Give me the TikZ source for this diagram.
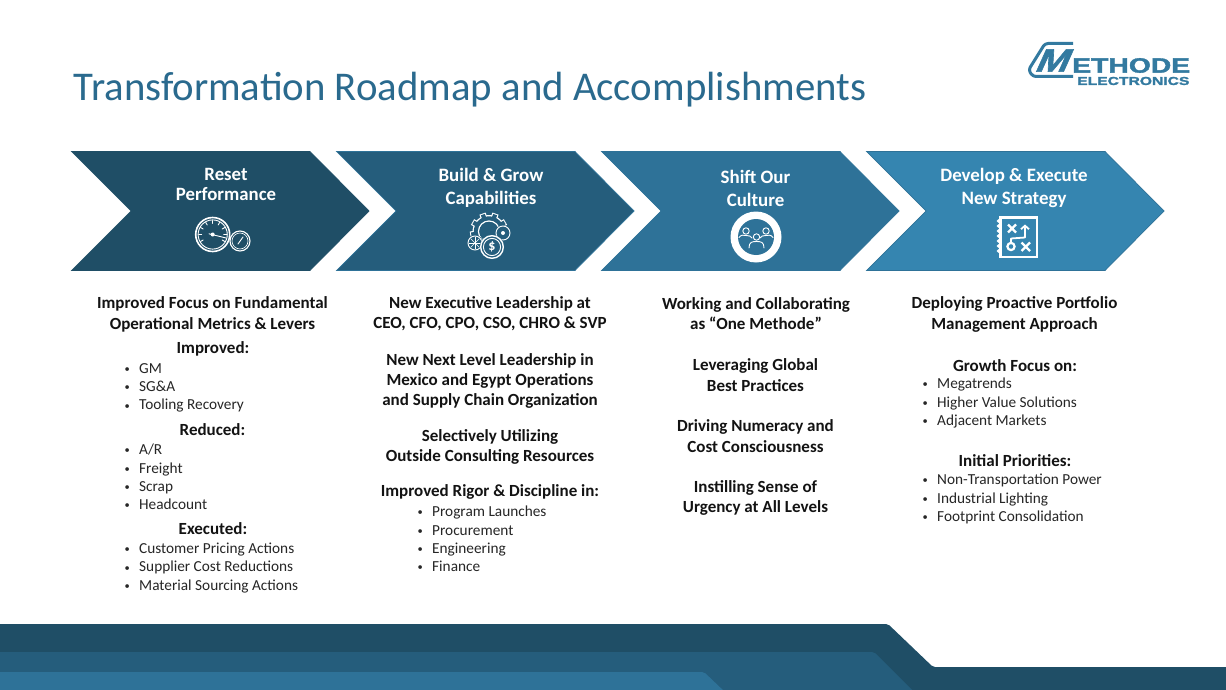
\documentclass[tikz,border=0pt]{standalone}
\usepackage{fontspec}
\setmainfont{Carlito}
\newfontfamily\logofont[BoldFeatures={FakeBold=1.6}]{Liberation Sans}
\usetikzlibrary{arrows.meta}
\definecolor{cA}{HTML}{1F4E66}
\definecolor{cB}{HTML}{255D7C}
\definecolor{cC}{HTML}{2E7298}
\definecolor{cD}{HTML}{3585B0}
\definecolor{cTitle}{HTML}{2A6A8E}
\definecolor{cLogo}{HTML}{337AA0}
\definecolor{cBody}{HTML}{262626}
\newcommand{\bul}{\makebox[14.5pt][l]{\raisebox{.9pt}{\fontsize{10.5}{10.5}\selectfont •}}}
\newcommand{\chevronshape}[3]{% left x, colour, edge colour
  \fill[#2,draw=#3,line width=.7pt] (#1+.5,151.5) -- (#1+239,151.5) -- (#1+298,211) -- (#1+239,270.5) -- (#1+.5,270.5) -- (#1+60,211) -- cycle;}
\tikzset{
  head/.style={text=white,font=\fontsize{18.9}{23}\selectfont\bfseries,align=center,anchor=center,inner sep=0pt},
  lead/.style={text=cBody!50!black,font=\fontsize{17}{20.6}\selectfont\bfseries,align=center,anchor=center,inner sep=0pt},
  bullets/.style={text=cBody,font=\fontsize{15.3}{18.3}\selectfont,align=left,anchor=west,inner sep=0pt},
  icon/.style={draw=white,line width=1.4pt,line cap=round,line join=round},
  iconthin/.style={draw=white,line width=.9pt,line cap=round,line join=round},
}
\begin{document}
\begin{tikzpicture}[x=1pt,y=-1pt]
\useasboundingbox (0,0) rectangle (1226,690);
\fill[white] (0,0) rectangle (1226,690);
% title
\node[anchor=west,inner sep=0pt,text=cTitle,font=\fontsize{40.8}{46}\selectfont] (title) at (73.5,90) {Transformation Roadmap and Accomplishments};
% logo
\draw[cLogo,line width=3pt,line join=round,rounded corners=3pt] (1073,43.5) -- (1045,43.5) -- (1028.5,70) -- (1033,76.5) -- (1073,76.5);
\node[anchor=center,inner sep=0pt,text=cLogo,font=\logofont\fontsize{32}{32}\selectfont\bfseries,xslant=.45,xscale=1.22,transform shape] (logoM) at (1055,60.5) {M};
\node[anchor=west,inner sep=0pt,text=cLogo,font=\logofont\fontsize{20.8}{21}\selectfont\bfseries,xscale=1.36,transform shape] (logoA) at (1072,65.5) {ETHODE};
\node[anchor=west,inner sep=0pt,text=cLogo,font=\logofont\fontsize{11.5}{12}\selectfont\bfseries,xscale=1.36,transform shape] (logoB) at (1077,81) {ELECTRONICS};
% chevrons
\chevronshape{71}{cA}{cA}
\chevronshape{336}{cB}{cC}
\chevronshape{601}{cC}{cC}
\chevronshape{866}{cD}{cC}
\node[head,font=\fontsize{18.8}{20}\selectfont\bfseries] (h1) at (226,184) {Reset\\Performance};
\node[head] (h2) at (491,188) {Build \& Grow\\Capabilities};
\node[head] (h3) at (755.5,188) {Shift Our\\Culture};
\node[head] (h4) at (1014,188) {Develop \& Execute\\New Strategy};
% icon 1: gauges
\draw[icon,line width=1.6pt] (212.7,234.5) circle (17);
\draw[iconthin] (212.7,234.5) circle (14.6);
\foreach \a in {-210,-180,-150,-120,-90,-60,-30,0,30}
  \draw[iconthin] (212.7,234.5) ++(\a:11) -- ++(\a:3);
\fill[white] (212.7,234.5) circle (2);
\draw[iconthin] (209,233.8) -- (226,238);
\draw[icon,line width=1.1pt] (240,241) circle (10);
\draw[white,line width=.6pt] (240,241) circle (8);
\draw[iconthin] (238,244) -- (243,237);
% icon 2: gear, coin and wheels
\begin{scope}
\clip (466,208) rectangle (512,240);
\foreach \a in {0,40,...,320}
  \draw[white,line width=6.5pt] (489,231.5) ++(\a+10:13) -- ++(\a+10:6);
\fill[white] (489,231.5) circle (16.5);
\foreach \a in {0,40,...,320}
  \draw[cB,line width=4.2pt] (489,231.5) ++(\a+10:12) -- ++(\a+10:6);
\fill[cB] (489,231.5) circle (15.2);
\draw[white,line width=1.2pt] (489,231.5) circle (10.5);
\fill[cB] (489,231.5) circle (9.5);
\end{scope}
\fill[cB] (503,233) circle (8);
\draw[iconthin] (503,233) circle (7);
\fill[white] (503,233) circle (2);
\fill[cB] (475,243) circle (8);
\draw[iconthin] (475,243) circle (7);
\foreach \a in {0,45,...,315} \draw[white,line width=.6pt] (475,243) -- ++(\a:6);
\fill[cB] (492,247) circle (12.3);
\draw[icon,line width=1.4pt] (492,247) circle (11.3);
\draw[iconthin] (492,247) circle (8.6);
\node[text=white,inner sep=0pt,font=\fontsize{14}{14}\selectfont\bfseries] (dollar) at (492,247) {\$};
% icon 3: people
\fill[white] (756,237) circle (25.5);
\fill[cC] (756,237) circle (18);
\foreach \px/\py in {746/231,766/231,756.5/237}
  \draw[iconthin] (\px,\py) circle (3.2);
\draw[iconthin] (739,237.5) .. controls (741,234.5) and (744,235) .. (746,235.5) .. controls (749,235.5) and (751,236) .. (752,238);
\draw[iconthin] (773,237.5) .. controls (771,234.5) and (768,235) .. (766,235.5) .. controls (763,235.5) and (761,236) .. (760,238);
\draw[iconthin] (749,248) .. controls (749,242) and (752,241.5) .. (756.5,241.5) .. controls (761,241.5) and (764,242) .. (764,248);
% icon 4: playbook
\draw[white,line width=2.6pt] (1000.5,217.5) rectangle (1037,257);
\foreach \dy in {221,226,231,236,241,246,251}
  \fill[white] (998.5,\dy) circle (1.9);
\draw[white,line width=2.2pt] (1008,224.5) -- (1016,232.5) (1016,224.5) -- (1008,232.5);
\draw[white,line width=2.2pt] (1021.5,242.5) -- (1030,251) (1030,242.5) -- (1021.5,251);
\draw[white,line width=2.2pt] (1011,246.5) circle (3.6);
\draw[white,line width=1.8pt,line join=round,-{Straight Barb[length=3.5pt,width=8pt]}] (1011,242.5) -- (1011,238.5) -- (1025,237.5) -- (1025,224.5);
% column 1
\node[lead] (a1) at (212.5,314.5) {Improved Focus on Fundamental\\Operational Metrics \& Levers};
\node[lead] (a2) at (213,349) {Improved:};
\node[bullets] (a3) at (124.5,388) {\bul GM\\\bul SG\&A\\\bul Tooling Recovery};
\node[lead] (a4) at (212.5,430) {Reduced:};
\node[bullets] (a5) at (124.5,477) {\bul A/R\\\bul Freight\\\bul Scrap\\\bul Headcount};
\node[lead] (a6) at (213,529) {Executed:};
\node[bullets] (a7) at (124.5,568) {\bul Customer Pricing Actions\\\bul Supplier Cost Reductions\\\bul Material Sourcing Actions};
% column 2
\node[lead] (b1) at (490,313.5) {New Executive Leadership at\\CEO, CFO, CPO, CSO, CHRO \& SVP};
\node[lead,font=\fontsize{17}{20}\selectfont\bfseries] (b2) at (490,380.5) {New Next Level Leadership in\\Mexico and Egypt Operations\\and Supply Chain Organization};
\node[lead] (b3) at (490,447) {Selectively Utilizing\\Outside Consulting Resources};
\node[lead] (b4) at (490,492) {Improved Rigor \& Discipline in:};
\node[bullets] (b5) at (417.5,539) {\bul Program Launches\\\bul Procurement\\\bul Engineering\\\bul Finance};
% column 3
\node[lead] (c1) at (756,313.5) {Working and Collaborating\\as “One Methode”};
\node[lead] (c2) at (755.5,375) {Leveraging Global\\Best Practices};
\node[lead] (c3) at (755.5,436) {Driving Numeracy and\\Cost Consciousness};
\node[lead] (c4) at (755.5,498) {Instilling Sense of\\Urgency at All Levels};
% column 4
\node[lead] (d1) at (1014.5,314.5) {Deploying Proactive Portfolio\\Management Approach};
\node[lead] (d2) at (1015,365.5) {Growth Focus on:};
\node[bullets] (d3) at (922.5,403) {\bul Megatrends\\\bul Higher Value Solutions\\\bul Adjacent Markets};
\node[lead] (d4) at (1015,461) {Initial Priorities:};
\node[bullets] (d5) at (922.5,499) {\bul Non-Transportation Power\\\bul Industrial Lighting\\\bul Footprint Consolidation};
% footer
\fill[cA,rounded corners=2pt] (-3,624) -- (888,624) -- (933,667) -- (1229,667) -- (1229,693) -- (-3,693) -- cycle;
\fill[cB,rounded corners=2pt] (-3,652) -- (874,652) -- (915,693) -- (-3,693) -- cycle;
\fill[cC,rounded corners=2pt] (-3,672) -- (704,672) -- (726,693) -- (-3,693) -- cycle;
\end{tikzpicture}
\end{document}
